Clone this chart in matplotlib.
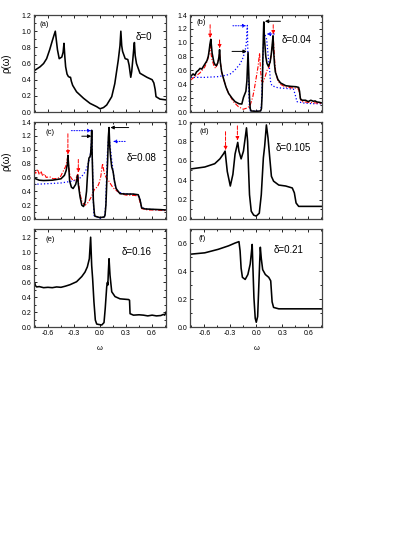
import numpy as np
import matplotlib
matplotlib.use("Agg")
from matplotlib import pyplot as plt
from matplotlib.ticker import MultipleLocator

plt.rcParams['font.family'] = ['Liberation Sans', 'DejaVu Sans']

# ---- panel (a), delta = 0
a_w = [-0.76, -0.69, -0.65, -0.615, -0.58, -0.55, -0.53, -0.515, -0.50, -0.49, -0.47, -0.44,
       -0.425, -0.415, -0.405, -0.396, -0.38, -0.365, -0.35, -0.34, -0.33, -0.315, -0.27, -0.19,
       -0.115, -0.038, 0.0, 0.04, 0.077, 0.135, 0.17, 0.21, 0.23, 0.24, 0.25, 0.26, 0.29, 0.32,
       0.335, 0.354, 0.365, 0.377, 0.39, 0.396, 0.405, 0.42, 0.46, 0.54, 0.6, 0.62, 0.635, 0.645,
       0.69, 0.76]
a_rho = [0.51, 0.56, 0.60, 0.66, 0.77, 0.88, 0.95, 1.0, 0.86, 0.77, 0.66, 0.68,
         0.74, 0.85, 0.68, 0.56, 0.47, 0.44, 0.43, 0.43, 0.38, 0.33, 0.25, 0.17,
         0.107, 0.066, 0.04, 0.055, 0.087, 0.19, 0.35, 0.64, 0.82, 1.0, 0.82, 0.75, 0.66, 0.65,
         0.58, 0.43, 0.50, 0.64, 0.80, 0.86, 0.70, 0.60, 0.48, 0.43, 0.40, 0.36, 0.28, 0.19,
         0.16, 0.15]

# ---- panel (b), delta = 0.04
b_black_w = [-0.76, -0.73, -0.71, -0.69, -0.67, -0.65, -0.63, -0.61, -0.59, -0.57, -0.555, -0.545,
             -0.535, -0.525, -0.51, -0.49, -0.475, -0.46, -0.445, -0.43, -0.424, -0.415, -0.40,
             -0.38, -0.35, -0.32, -0.28, -0.245, -0.2, -0.167, -0.148, -0.12, -0.108, -0.095,
             -0.085, -0.078, -0.07, -0.06, 0.0, 0.05, 0.06, 0.068, 0.075, 0.082, 0.087, 0.095,
             0.11, 0.124, 0.14, 0.16, 0.175, 0.185, 0.194, 0.2, 0.21, 0.22, 0.25, 0.28, 0.34, 0.40,
             0.46, 0.49, 0.5, 0.51, 0.53, 0.57, 0.6, 0.63, 0.66, 0.68, 0.7, 0.73, 0.76]
b_black_rho = [0.51, 0.55, 0.53, 0.58, 0.60, 0.63, 0.62, 0.66, 0.70, 0.74, 0.80, 0.88,
               0.98, 1.05, 0.85, 0.72, 0.68, 0.67, 0.71, 0.80, 0.90, 0.72, 0.58,
               0.49, 0.36, 0.27, 0.20, 0.15, 0.12, 0.115, 0.21, 0.30, 0.45, 0.86,
               0.50, 0.20, 0.05, 0.015, 0.01, 0.015, 0.05, 0.25, 0.70, 1.10, 1.30, 1.05,
               0.80, 0.70, 0.66, 0.72, 0.85, 0.98, 1.10, 0.90, 0.70, 0.58, 0.47, 0.42, 0.38, 0.37,
               0.365, 0.355, 0.30, 0.19, 0.17, 0.17, 0.15, 0.17, 0.155, 0.16, 0.145, 0.14, 0.13]
b_red_w = [-0.76, -0.71, -0.654, -0.595, -0.565, -0.545, -0.533, -0.52, -0.51, -0.49, -0.47,
           -0.447, -0.432, -0.424, -0.415, -0.40, -0.38, -0.35, -0.32, -0.265, -0.206, -0.15,
           -0.10, -0.07, -0.04, -0.02, 0.0, 0.02, 0.038, 0.05, 0.06, 0.075, 0.10, 0.124, 0.15,
           0.17, 0.185, 0.196, 0.205, 0.215, 0.225, 0.25, 0.28, 0.34, 0.40, 0.46, 0.49, 0.5,
           0.52, 0.6, 0.7, 0.76]
b_red_rho = [0.46, 0.51, 0.56, 0.65, 0.74, 0.84, 0.99, 0.82, 0.75, 0.67, 0.63,
             0.70, 0.78, 0.87, 0.72, 0.58, 0.485, 0.36, 0.27, 0.15, 0.077, 0.04,
             0.06, 0.10, 0.22, 0.35, 0.50, 0.65, 0.85, 0.60, 0.45, 0.43, 0.50, 0.60, 0.66,
             0.80, 0.95, 1.08, 0.90, 0.70, 0.58, 0.45, 0.40, 0.36, 0.35, 0.345, 0.33, 0.26,
             0.15, 0.14, 0.13, 0.12]
b_blue_w = [-0.76, -0.6, -0.45, -0.35, -0.30, -0.25, -0.19, -0.16, -0.128, -0.115, -0.108, -0.103,
            -0.098, -0.09, -0.08, -0.07, 0.0, 0.05, 0.06, 0.07, 0.08, 0.09, 0.1, 0.12, 0.143,
            0.155, 0.163, 0.18, 0.25, 0.35, 0.43, 0.45, 0.47, 0.55, 0.65, 0.76]
b_blue_rho = [0.50, 0.50, 0.51, 0.53, 0.55, 0.60, 0.69, 0.76, 0.885, 1.0, 1.15, 1.25,
              0.9, 0.4, 0.1, 0.02, 0.01, 0.02, 0.1, 0.5, 0.9, 1.13, 1.12, 1.05, 0.74,
              0.6, 0.45, 0.38, 0.35, 0.34, 0.33, 0.25, 0.15, 0.13, 0.12, 0.12]

# ---- panel (c), delta = 0.08
c_black_w = [-0.76, -0.70, -0.65, -0.55, -0.45, -0.41, -0.39, -0.375, -0.37, -0.36, -0.35, -0.33,
             -0.31, -0.28, -0.265, -0.258, -0.25, -0.23, -0.21, -0.19, -0.17, -0.155, -0.146,
             -0.135, -0.127, -0.115, -0.108, -0.1, -0.096, -0.09, -0.077, -0.065, -0.058, 0.0,
             0.05, 0.058, 0.068, 0.077, 0.088, 0.096, 0.104, 0.112, 0.123, 0.135, 0.15, 0.165,
             0.185, 0.23, 0.3, 0.38, 0.44, 0.46, 0.48, 0.52, 0.6, 0.7, 0.76]
c_black_rho = [0.59, 0.56, 0.555, 0.56, 0.58, 0.63, 0.70, 0.80, 0.92, 0.75, 0.55, 0.46,
               0.44, 0.50, 0.58, 0.63, 0.50, 0.32, 0.20, 0.18, 0.25, 0.40, 0.60,
               0.80, 0.88, 0.90, 0.94, 1.10, 1.28, 0.90, 0.27, 0.08, 0.04, 0.02,
               0.03, 0.06, 0.2, 0.5, 0.85, 1.18, 1.32, 1.05, 0.88, 0.75, 0.69, 0.56,
               0.44, 0.365, 0.36, 0.36, 0.35, 0.28, 0.16, 0.145, 0.14, 0.135, 0.13]
c_red_w = [-0.76, -0.74, -0.72, -0.70, -0.68, -0.66, -0.64, -0.62, -0.58, -0.54, -0.5, -0.46,
           -0.42, -0.395, -0.38, -0.37, -0.36, -0.345, -0.32, -0.29, -0.27, -0.255, -0.245,
           -0.23, -0.21, -0.19, -0.17, -0.135, -0.1, -0.06, -0.03, -0.01, 0.01, 0.02, 0.03,
           0.04, 0.05, 0.07, 0.1, 0.15, 0.2, 0.25, 0.3, 0.4, 0.44, 0.46, 0.48, 0.55, 0.65, 0.76]
c_red_rho = [0.70, 0.66, 0.72, 0.64, 0.69, 0.62, 0.65, 0.60, 0.61, 0.58, 0.585, 0.60,
             0.70, 0.76, 0.84, 0.92, 0.74, 0.62, 0.57, 0.56, 0.60, 0.66, 0.50,
             0.36, 0.26, 0.22, 0.20, 0.24, 0.32, 0.44, 0.46, 0.52, 0.62, 0.72, 0.80,
             0.72, 0.66, 0.60, 0.55, 0.45, 0.40, 0.36, 0.345, 0.34, 0.33, 0.25, 0.15, 0.13, 0.13, 0.12]
c_blue_w = [-0.76, -0.6, -0.45, -0.35, -0.28, -0.22, -0.17, -0.14, -0.12, -0.11, -0.1, -0.094,
            -0.088, -0.08, -0.07, 0.0, 0.055, 0.065, 0.075, 0.085, 0.095, 0.11, 0.13, 0.15, 0.17,
            0.2, 0.25, 0.35, 0.44, 0.46, 0.48, 0.55, 0.65, 0.76]
c_blue_rho = [0.50, 0.51, 0.52, 0.54, 0.56, 0.60, 0.68, 0.78, 0.88, 0.95, 1.1, 1.28,
              0.9, 0.35, 0.05, 0.01, 0.03, 0.2, 0.6, 0.95, 1.12, 1.12, 0.9, 0.7, 0.5,
              0.4, 0.37, 0.36, 0.35, 0.28, 0.16, 0.14, 0.135, 0.13]

# ---- panel (d), delta = 0.105
d_w = [-0.765, -0.595, -0.48, -0.42, -0.38, -0.36, -0.335, -0.30, -0.27, -0.245, -0.214, -0.2,
       -0.175, -0.148, -0.128, -0.113, -0.1, -0.09, -0.078, -0.058, -0.03, 0.0, 0.035, 0.058,
       0.082, 0.097, 0.117, 0.136, 0.156, 0.175, 0.2, 0.26, 0.34, 0.416, 0.44, 0.46, 0.49, 0.77]
d_rho = [0.515, 0.536, 0.57, 0.62, 0.67, 0.70, 0.49, 0.34, 0.46, 0.67, 0.79, 0.70,
         0.62, 0.70, 0.835, 0.94, 0.80, 0.53, 0.25, 0.08, 0.04, 0.03, 0.06, 0.25,
         0.63, 0.75, 0.97, 0.835, 0.63, 0.44, 0.39, 0.35, 0.34, 0.32, 0.27, 0.165, 0.13, 0.13]

# ---- panel (e), delta = 0.16
e_w = [-0.76, -0.755, -0.745, -0.73, -0.70, -0.65, -0.60, -0.55, -0.50, -0.45, -0.40, -0.346,
       -0.27, -0.21, -0.173, -0.146, -0.123, -0.108, -0.096, -0.085, -0.07, -0.054, -0.038, 0.02,
       0.046, 0.06, 0.077, 0.085, 0.09, 0.096, 0.104, 0.115, 0.135, 0.173, 0.23, 0.33, 0.34,
       0.346, 0.385, 0.45, 0.5, 0.55, 0.6, 0.65, 0.7, 0.73, 0.745, 0.76]
e_rho = [0.55, 0.60, 0.56, 0.54, 0.545, 0.53, 0.535, 0.53, 0.54, 0.535, 0.55, 0.57,
         0.61, 0.68, 0.74, 0.81, 0.92, 1.21, 0.83, 0.65, 0.34, 0.094, 0.04, 0.027,
         0.06, 0.25, 0.54, 0.60, 0.565, 0.74, 0.92, 0.70, 0.475, 0.41, 0.38, 0.37, 0.36,
         0.18, 0.16, 0.165, 0.16, 0.15, 0.16, 0.15, 0.155, 0.17, 0.16, 0.2]

# ---- panel (f), delta = 0.21
f_w = [-0.765, -0.595, -0.44, -0.32, -0.245, -0.2, -0.187, -0.175, -0.16, -0.128, -0.097,
       -0.07, -0.058, -0.047, -0.04, -0.027, -0.012, 0.0, 0.016, 0.027, 0.04, 0.047, 0.058,
       0.074, 0.105, 0.144, 0.167, 0.183, 0.2, 0.26, 0.77]
f_rho = [0.52, 0.53, 0.555, 0.58, 0.60, 0.61, 0.545, 0.42, 0.355, 0.34, 0.375,
         0.45, 0.52, 0.59, 0.45, 0.21, 0.0625, 0.034, 0.075, 0.255, 0.47, 0.57, 0.49,
         0.41, 0.375, 0.355, 0.33, 0.18, 0.14, 0.13, 0.13]

RED = '#ff0000'
BLUE = '#0000ff'
red_dash = (0, (4, 1.5, 1, 1.5))


def style_axes(ax, ymax, ystep, show_x):
    ax.set_xlim(-0.76, 0.76)
    ax.set_ylim(0, ymax)
    ax.xaxis.set_major_locator(MultipleLocator(0.3))
    ax.xaxis.set_minor_locator(MultipleLocator(0.15))
    ax.yaxis.set_major_locator(MultipleLocator(ystep))
    ax.yaxis.set_minor_locator(MultipleLocator(ystep / 2))
    ax.tick_params(which='both', direction='in', top=True, right=True,
                   labelsize=5, width=0.6, pad=2)
    ax.tick_params(which='major', length=2.5)
    ax.tick_params(which='minor', length=1.5)
    ax.yaxis.set_major_formatter(plt.FuncFormatter(lambda v, p: '%.1f' % v))
    ax.xaxis.set_major_formatter(plt.FuncFormatter(lambda v, p: '%.1f' % v))
    if not show_x:
        ax.tick_params(labelbottom=False)
    for s in ax.spines.values():
        s.set_linewidth(0.9)
        s.set_color('#444444')


def arrow(ax, tail, head, color, ls='-'):
    ax.annotate('', xy=head, xytext=tail,
                arrowprops=dict(arrowstyle='-|>', color=color, lw=0.7, linestyle=ls,
                                mutation_scale=5, shrinkA=0, shrinkB=0))


fig = plt.figure(figsize=(4.15, 5.37), dpi=100)
lefts = [0.082, 0.459]
widths = [0.318, 0.317]
bottoms = [0.7914, 0.5922, 0.391]
heights = [0.1806, 0.1806, 0.1825]
axs = [[fig.add_axes([lefts[c], bottoms[r], widths[c], heights[r]]) for c in range(2)]
       for r in range(3)]
ax_a, ax_b = axs[0]
ax_c, ax_d = axs[1]
ax_e, ax_f = axs[2]

# (a)
ax_a.plot(a_w, a_rho, color='k', lw=1.15)
style_axes(ax_a, 1.2, 0.2, False)

# (b)
ax_b.plot(b_blue_w, b_blue_rho, color=BLUE, lw=0.9, ls=':')
ax_b.plot(b_red_w, b_red_rho, color=RED, lw=0.8, ls=red_dash)
ax_b.plot(b_black_w, b_black_rho, color='k', lw=1.15)
style_axes(ax_b, 1.4, 0.2, False)
arrow(ax_b, (-0.533, 1.26), (-0.533, 1.07), RED, '--')
arrow(ax_b, (-0.424, 1.04), (-0.424, 0.92), RED, '--')
arrow(ax_b, (0.196, 1.26), (0.196, 1.12), RED, '--')
arrow(ax_b, (-0.28, 0.875), (-0.11, 0.875), 'k')
arrow(ax_b, (0.28, 1.31), (0.10, 1.31), 'k')
arrow(ax_b, (-0.27, 1.245), (-0.115, 1.245), BLUE, ':')
arrow(ax_b, (0.21, 1.126), (0.12, 1.126), BLUE, ':')

# (c)
ax_c.plot(c_blue_w, c_blue_rho, color=BLUE, lw=0.9, ls=':')
ax_c.plot(c_red_w, c_red_rho, color=RED, lw=0.8, ls=red_dash)
ax_c.plot(c_black_w, c_black_rho, color='k', lw=1.15)
style_axes(ax_c, 1.4, 0.2, False)
arrow(ax_c, (-0.37, 1.23), (-0.37, 0.93), RED, '--')
arrow(ax_c, (-0.25, 0.86), (-0.25, 0.67), RED, '--')
arrow(ax_c, (-0.33, 1.275), (-0.10, 1.275), BLUE, ':')
arrow(ax_c, (-0.21, 1.195), (-0.10, 1.195), 'k')
arrow(ax_c, (0.33, 1.32), (0.12, 1.32), 'k')
arrow(ax_c, (0.29, 1.12), (0.15, 1.12), BLUE, ':')

# (d)
ax_d.plot(d_w, d_rho, color='k', lw=1.15)
style_axes(ax_d, 1.0, 0.2, False)
arrow(ax_d, (-0.355, 0.90), (-0.355, 0.71), RED, '--')
arrow(ax_d, (-0.218, 0.96), (-0.218, 0.81), RED, '--')

# (e)
ax_e.plot(e_w, e_rho, color='k', lw=1.15)
style_axes(ax_e, 1.32, 0.2, True)

# (f)
ax_f.plot(f_w, f_rho, color='k', lw=1.15)
style_axes(ax_f, 0.7, 0.2, True)

panel_txt = [(ax_a, '(a)', 0.045, 0.9, 'δ=0', 0.77, 0.77),
             (ax_b, '(b)', 0.045, 0.92, 'δ=0.04', 0.69, 0.74),
             (ax_c, '(c)', 0.09, 0.89, 'δ=0.08', 0.70, 0.63),
             (ax_d, '(d)', 0.07, 0.90, 'δ=0.105', 0.65, 0.73),
             (ax_e, '(e)', 0.09, 0.89, 'δ=0.16', 0.665, 0.77),
             (ax_f, '(f)', 0.06, 0.90, 'δ=0.21', 0.63, 0.79)]
for ax, lab, lx, ly, dtxt, dx, dy in panel_txt:
    ax.text(lx, ly, lab, transform=ax.transAxes, fontsize=5.5, va='center', ha='left')
    ax.text(dx, dy, dtxt, transform=ax.transAxes, fontsize=7, va='center', ha='left')

ax_a.set_ylabel('ρ(ω)', fontsize=7)
ax_a.yaxis.set_label_coords(-0.17, 0.5)
ax_c.set_ylabel('ρ(ω)', fontsize=7)
ax_c.yaxis.set_label_coords(-0.17, 0.6)
for ax in (ax_e, ax_f):
    ax.set_xlabel('ω', fontsize=5.5, labelpad=6)

fig.savefig('out.png', dpi=100)
